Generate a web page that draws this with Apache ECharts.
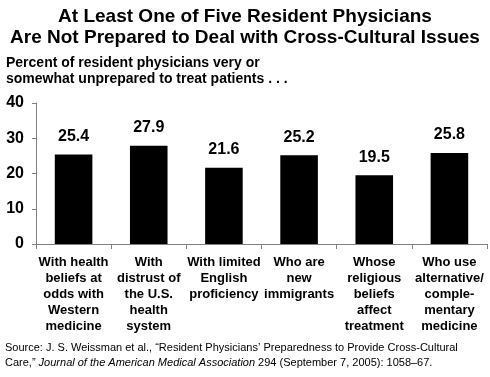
<!DOCTYPE html>
<html>
<head>
<meta charset="utf-8">
<script src="https://cdn.jsdelivr.net/npm/echarts@6/dist/echarts.min.js"></script>
<style>
  html, body { margin: 0; padding: 0; background: #fff; }
  #chart { width: 490px; height: 377px; }
</style>
</head>
<body>
<div id="chart"></div>
<script>
var categories = [
  'With health\nbeliefs at\nodds with\nWestern\nmedicine',
  'With\ndistrust of\nthe U.S.\nhealth\nsystem',
  'With limited\nEnglish\nproficiency',
  'Who are\nnew\nimmigrants',
  'Whose\nreligious\nbeliefs\naffect\ntreatment',
  'Who use\nalternative/\ncomple-\nmentary\nmedicine'
]
var values = [25.4, 27.9, 21.6, 25.2, 19.5, 25.8]
var yTicks = [0, 10, 20, 30, 40]

var chart = echarts.init(document.getElementById('chart'))
var font = '"Liberation Sans", Arial, sans-serif'

chart.setOption({
  backgroundColor: '#ffffff',
  animation: false,
  title: [
    {
      text: 'At Least One of Five Resident Physicians\nAre Not Prepared to Deal with Cross-Cultural Issues',
      left: 'center',
      top: 1,
      textStyle: {
        fontFamily: font,
        fontSize: 19,
        fontWeight: 'bold',
        color: '#000',
        lineHeight: 21
      }
    },
    {
      text: 'Percent of resident physicians very or\nsomewhat unprepared to treat patients . . .',
      left: 1,
      top: 50,
      textStyle: {
        fontFamily: font,
        fontSize: 14,
        fontWeight: 'bold',
        color: '#000',
        lineHeight: 16
      }
    },
    {
      text: '{n|Source: J. S. Weissman et al., \u201cResident Physicians\u2019 Preparedness to Provide Cross-Cultural}\n{n|Care,\u201d }{i|Journal of the American Medical Association}{n| 294 (September 7, 2005): 1058\u201367.}',
      left: 0,
      top: 335,
      textStyle: {
        rich: {
          n: { fontFamily: font, fontSize: 11, fontWeight: 'normal', color: '#000', lineHeight: 15 },
          i: { fontFamily: font, fontSize: 11, fontWeight: 'normal', fontStyle: 'italic', color: '#000', lineHeight: 15 }
        }
      }
    }
  ],
  grid: {
    left: 36,
    right: 3,
    top: 103,
    bottom: 133,
    containLabel: false
  },
  xAxis: {
    type: 'category',
    data: categories,
    axisLine: { show: true, lineStyle: { color: '#808080', width: 1 } },
    axisTick: { show: true, length: 5, lineStyle: { color: '#808080' } },
    axisLabel: {
      interval: 0,
      margin: 11,
      fontFamily: font,
      fontSize: 13,
      fontWeight: 'bold',
      color: '#000',
      lineHeight: 15.8
    }
  },
  yAxis: {
    type: 'value',
    min: yTicks[0],
    max: yTicks[yTicks.length - 1],
    interval: 10,
    axisLine: { show: true, lineStyle: { color: '#808080', width: 1 } },
    axisTick: { show: true, length: 4, lineStyle: { color: '#808080' } },
    splitLine: { show: false },
    axisLabel: {
      margin: 12,
      fontFamily: font,
      fontSize: 16,
      fontWeight: 'bold',
      color: '#000'
    }
  },
  series: [{
    type: 'bar',
    data: values,
    barWidth: '50%',
    itemStyle: { color: '#000' },
    label: {
      show: true,
      position: 'top',
      distance: 10,
      formatter: function (p) { return p.value.toFixed(1) },
      fontFamily: font,
      fontSize: 16,
      fontWeight: 'bold',
      color: '#000'
    }
  }]
})
</script>
</body>
</html>
